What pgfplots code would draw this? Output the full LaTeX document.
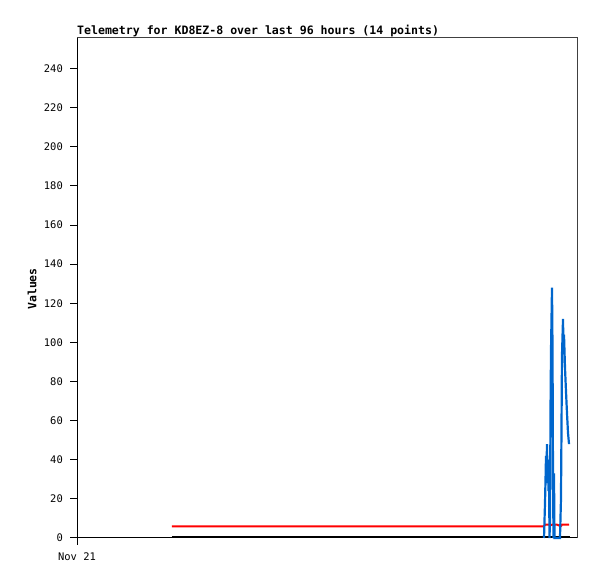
\documentclass[border=0pt]{standalone}
\usepackage{fontspec}
\setmainfont{DejaVu Sans Mono}
\usepackage{pgfplots}
\pgfplotsset{compat=1.18}
\definecolor{tblue}{RGB}{0,102,204}
\definecolor{frame}{RGB}{64,64,64}
\begin{document}
\begin{tikzpicture}
\useasboundingbox (0,0) rectangle (597bp,579bp);
\begin{axis}[
  at={(77bp,41bp)}, anchor=south west,
  width=501bp, height=500bp, scale only axis,
  xmin=0, xmax=96, ymin=0, ymax=255.6,
  ytick={0,20,...,240}, xtick={0}, xticklabels={Nov 21},
  tick align=outside, major tick length=7bp,
  tick style={black, line width=1bp},
  axis x line*=bottom, axis y line*=left,
  axis line style={-, black, line width=1bp},
  /pgf/number format/assume math mode=true,
  ticklabel style={font=\fontsize{10.5}{12}\selectfont},
  yticklabel style={inner sep=0pt, xshift=-7bp},
  xticklabel style={inner sep=0pt, yshift=-8bp},
  clip=false,
]
\addplot[black, line width=2.2bp] coordinates {(18.2,0.4) (94.47,0.4)};
\addplot[red, line width=2bp] coordinates {
(18.2,6.0) (89.49,6.0) (89.68,6.8) (90.45,6.8) (90.64,6.4) (91.02,6.8)
(92.0,6.8) (92.55,6.2) (92.74,6.1) (92.93,6.8) (94.28,6.9)};
\addplot[tblue, line width=2.2bp] coordinates {
(89.49,0) (89.68,18) (89.78,30) (89.87,42) (89.97,36) (90.06,48)
(90.16,28) (90.25,40) (90.35,24) (90.45,32) (90.54,0) (90.64,10)
(90.73,64) (90.83,96) (91.02,128) (91.12,96) (91.21,31) (91.31,0)
(91.40,33) (91.50,0) (92.55,0) (92.74,20) (92.84,56) (92.93,93)
(93.13,112) (93.22,96) (93.32,104) (93.51,87) (93.70,75) (93.89,64)
(94.08,54) (94.28,48)};
\draw[frame, line width=1bp] (rel axis cs:0,1) -- (rel axis cs:1,1) -- (rel axis cs:1,0);
\end{axis}
\node[anchor=base west, inner sep=0pt, font=\fontsize{11.6}{14}\selectfont\bfseries] at (77bp,544bp) {Telemetry for KD8EZ-8 over last 96 hours (14 points)};
\node[rotate=90, inner sep=0pt, font=\fontsize{11.5}{13}\selectfont\bfseries] at (32bp,290bp) {Values};
\end{tikzpicture}
\end{document}
